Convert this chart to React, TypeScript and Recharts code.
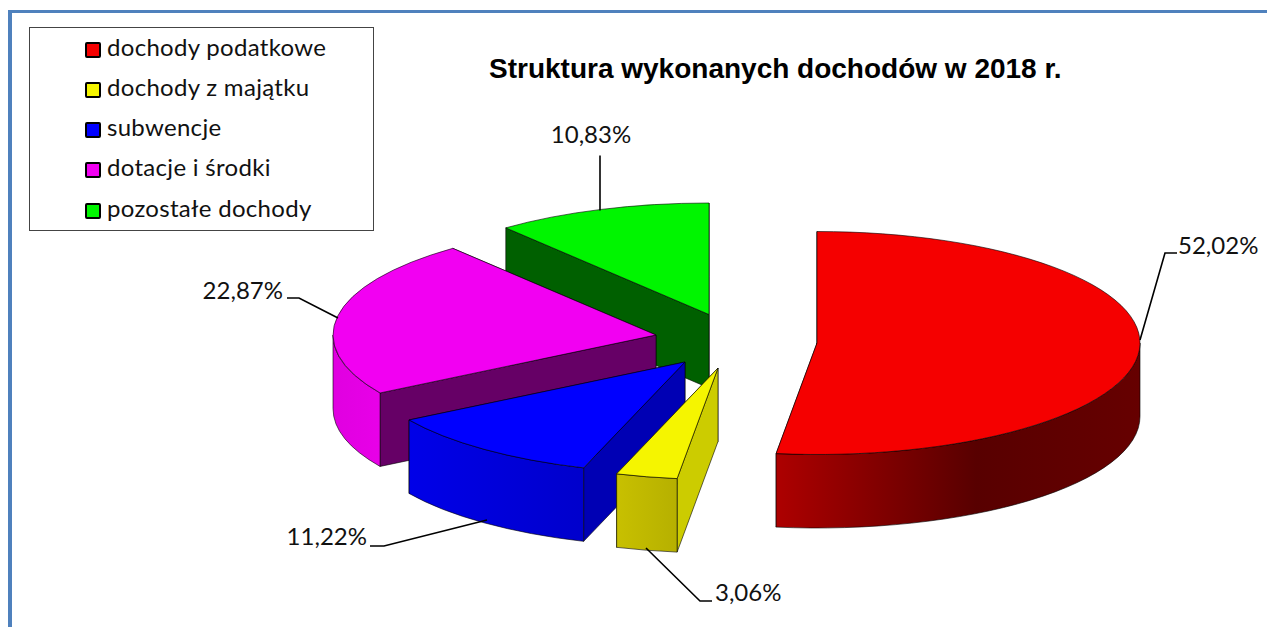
import { PieChart, Pie, Legend } from 'recharts';

// Data, in the order of the legend
const CATEGORIES = ['dochody podatkowe', 'dochody z majątku', 'subwencje', 'dotacje i środki', 'pozostałe dochody'];
const SHARES = [52.02, 3.06, 11.22, 22.87, 10.83];

// Colours
const TOP_COLORS = ['#f50000', '#f5f500', '#0000ff', '#f200f2', '#00f500'];
const SIDE_COLORS = ['#600000', '#cccc00', '#0000b4', '#660066', '#006000'];
const WALL_STOPS = [
  [['0%', '#ad0000'], ['55%', '#580000'], ['100%', '#660000']],
  [['0%', '#c8c000'], ['100%', '#b6b000']],
  [['0%', '#0000e8'], ['100%', '#0000cc']],
  [['0%', '#e000e0'], ['100%', '#e800e8']],
  [['0%', '#006000'], ['100%', '#006000']],
];

// 3D look of the exploded pie
const WIDTH = 1267;
const HEIGHT = 627;
const CX = 700;
const CY = 340;
const RADIUS = 323;
const SQUASH = 111.5 / 323;
const DEPTH = 73.5;
const EXPLODE = [[117, 3], [18, 28], [-15, 22], [-44, -5], [9, -25.5]];

// Leader lines, relative to the apex of each slice; text is where the label sits
const LEADERS = [
  { points: [[323, -3], [348, -90], [360, -90]], text: [361, -89], anchor: 'start' },
  { points: [[-72, 180], [-18, 233], [-6, 233]], text: [-3, 233], anchor: 'start' },
  { points: [[-198, 158], [-301, 184], [-315, 184]], text: [-318, 183], anchor: 'end' },
  { points: [[-318, -17], [-357, -37], [-369, -37]], text: [-373, -36], anchor: 'end' },
  { points: [[-109, -104], [-109, -159]], text: [-118, -172], anchor: 'middle' },
];

// Pie runs counter-clockwise from the top with the reversed table, so the
// rear slices are painted first and the front ones cover them.
const TABLE = CATEGORIES.map((name, i) => ({
  name,
  value: SHARES[i],
  key: i,
  fill: TOP_COLORS[i],
})).reverse();

const rad = (a: number) => (a * Math.PI) / 180;

function SliceShape(props: any) {
  const { cx, cy, outerRadius, startAngle, endAngle, payload } = props;
  const i = payload.key;
  const ox = cx + EXPLODE[i][0];
  const oy = cy + EXPLODE[i][1];
  const rx = outerRadius;
  const ry = outerRadius * SQUASH;
  const pt = (a: number) => [ox + rx * Math.cos(rad(a)), oy - ry * Math.sin(rad(a))];
  const p1 = pt(startAngle);
  const p2 = pt(endAngle);
  const large = endAngle - startAngle > 180 ? 1 : 0;
  const top = `M${ox},${oy}L${p1[0]},${p1[1]}A${rx},${ry} 0 ${large} 0 ${p2[0]},${p2[1]}Z`;
  const radial = (p: number[]) =>
    `M${ox},${oy}L${p[0]},${p[1]}L${p[0]},${p[1] + DEPTH}L${ox},${oy + DEPTH}Z`;

  // Only the lower half of the rim faces the viewer
  const w1 = Math.max(startAngle, 180);
  const w2 = Math.min(endAngle, 360);
  const hasWall = w2 > w1;
  const a = pt(w1);
  const b = pt(w2);
  const wall = `M${a[0]},${a[1]}A${rx},${ry} 0 0 0 ${b[0]},${b[1]}L${b[0]},${b[1] + DEPTH}A${rx},${ry} 0 0 1 ${a[0]},${a[1] + DEPTH}Z`;
  const gid = `wall-${i}`;

  return (
    <g>
      <defs>
        <linearGradient id={gid} gradientUnits="userSpaceOnUse" x1={Math.min(a[0], b[0])} x2={Math.max(a[0], b[0])} y1={0} y2={0}>
          {WALL_STOPS[i].map(([o, c]) => (
            <stop key={o} offset={o} stopColor={c} />
          ))}
        </linearGradient>
      </defs>
      <path d={radial(p1)} fill={SIDE_COLORS[i]} stroke="#000" strokeWidth={0.6} />
      <path d={radial(p2)} fill={SIDE_COLORS[i]} stroke="#000" strokeWidth={0.6} />
      {hasWall && <path d={wall} fill={`url(#${gid})`} stroke="#000" strokeWidth={0.6} />}
      <path d={top} fill={TOP_COLORS[i]} stroke="#000" strokeWidth={0.6} />
    </g>
  );
}

function SliceLabel(props: any) {
  const { index, cx, cy } = props;
  const i = TABLE[index].key;
  const ox = cx + EXPLODE[i][0];
  const oy = cy + EXPLODE[i][1];
  const l = LEADERS[i];
  return (
    <g>
      <polyline
        points={l.points.map(([x, y]) => `${ox + x},${oy + y}`).join(' ')}
        fill="none"
        stroke="#000"
        strokeWidth={1.6}
      />
      <text
        x={ox + l.text[0]}
        y={oy + l.text[1]}
        textAnchor={l.anchor as any}
        fontFamily="Lato, sans-serif"
        fontSize={24}
        fill="#111"
      >
        {TABLE[index].value.toFixed(2).replace('.', ',')}%
      </text>
    </g>
  );
}

function LegendBox() {
  return (
    <div
      style={{
        width: 345,
        height: 204,
        boxSizing: 'border-box',
        border: '1px solid #444',
        background: '#fff',
        position: 'relative',
      }}
    >
      {CATEGORIES.map((name, i) => (
        <div
          key={name}
          style={{
            position: 'absolute',
            left: 55,
            top: 4 + i * 40.3,
            height: 32,
            display: 'flex',
            alignItems: 'center',
            fontFamily: 'Lato, sans-serif',
            fontSize: 24,
            letterSpacing: 0.3,
            lineHeight: '26px',
            color: '#111',
            whiteSpace: 'nowrap',
          }}
        >
          <span
            style={{
              display: 'inline-block',
              width: 12,
              height: 12,
              border: '2px solid #000',
              borderRadius: 2,
              background: TOP_COLORS[i],
              marginRight: 6,
              marginTop: 3,
            }}
          />
          <span style={{ marginTop: -3 }}>{name}</span>
        </div>
      ))}
    </div>
  );
}

export default function App() {
  return (
    <div style={{ position: 'fixed', left: 0, top: 0, width: WIDTH, height: HEIGHT, background: '#fff', overflow: 'hidden' }}>
      <div style={{ position: 'absolute', left: 8, top: 10, right: 0, height: 3, background: '#4f81bd' }} />
      <div style={{ position: 'absolute', left: 8, top: 10, bottom: 0, width: 4, background: '#4f81bd' }} />
      <div
        style={{
          position: 'absolute',
          left: 489,
          top: 53,
          fontFamily: '"Liberation Sans", Arial, sans-serif',
          fontWeight: 700,
          fontSize: 28,
          color: '#000',
          whiteSpace: 'nowrap',
        }}
      >
        Struktura wykonanych dochodów w 2018 r.
      </div>
      <PieChart width={WIDTH} height={HEIGHT} margin={{ top: 0, right: 0, bottom: 0, left: 0 }} style={{ position: 'absolute', left: 0, top: 0 }}>
        <Pie
          data={TABLE}
          dataKey="value"
          nameKey="name"
          cx={CX}
          cy={CY}
          innerRadius={0}
          outerRadius={RADIUS}
          startAngle={90}
          endAngle={450}
          stroke="none"
          isAnimationActive={false}
          shape={SliceShape}
          label={SliceLabel}
          labelLine={false}
        />
        {/* horizontal + middle keeps the legend from shrinking the plot area */}
        <Legend
          layout="horizontal"
          align="center"
          verticalAlign="middle"
          content={<LegendBox />}
          wrapperStyle={{ position: 'absolute', left: 29, top: 27, width: 345, height: 204 }}
        />
      </PieChart>
    </div>
  );
}
